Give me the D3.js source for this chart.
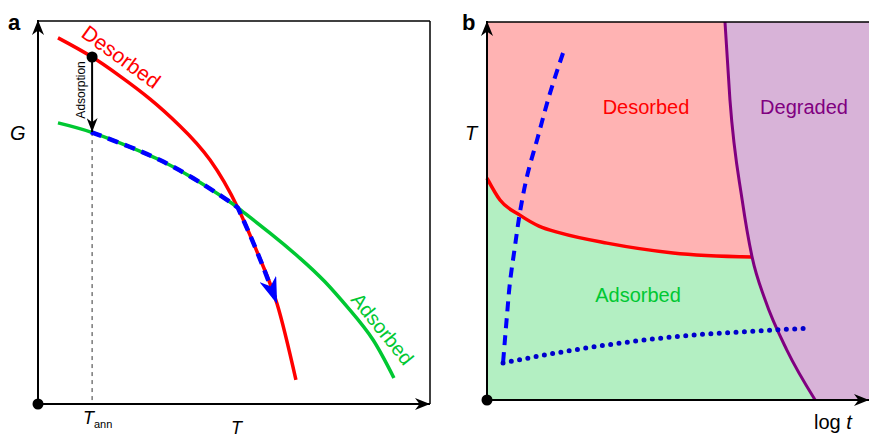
<!DOCTYPE html>
<html>
<head>
<meta charset="utf-8">
<script src="https://cdn.jsdelivr.net/npm/d3@7"></script>
<style>
  body { margin: 0; background: #fff; }
  text { font-family: "Liberation Sans", Arial, sans-serif; }
</style>
</head>
<body>
<div id="graph"></div>
<script>
// schematic curves, in 0-100 units on both axes

// panel a: G against T
var desorbedG = [[5.1, 95.6], [13.3, 90.9], [20.9, 85.6], [28.6, 79.6], [36.2, 72.6], [43.9, 63.7],
                 [51.0, 51.2], [56.1, 39.2], [61.0, 26.1], [65.8, 6.3]];
var adsorbedG = [[5.1, 73.4], [13.5, 71.0], [23.5, 67.1], [31.1, 63.7], [39.5, 59.0], [48.2, 53.3],
                 [51.0, 51.2], [59.2, 44.6], [66.8, 38.1], [73.2, 31.9], [79.6, 24.5],
                 [85.5, 16.7], [90.8, 6.8]];
// annealing path: along the adsorbed curve, then down the desorbed one
var annealOnAdsorbed = [[13.5, 71.0], [23.5, 67.1], [31.1, 63.7], [39.5, 59.0], [48.2, 53.3], [51.0, 51.2]];
var annealOnDesorbed = [[51.0, 51.2], [56.1, 39.2], [61.0, 26.1]];
var Tann = 13.8;

// panel b: T against log t
var desorbBoundary = [[0, 58.7], [3.4, 52.9], [8.6, 48.9], [13.6, 46.0], [19.1, 44.2],
                      [31.4, 41.5], [48.7, 38.9], [69.4, 37.8]];
var degradeBoundary = [[62.3, 100], [63.6, 79.4], [66.8, 52.9], [69.4, 37.8], [72.8, 26.5],
                       [78.5, 13.2], [85.9, 0]];
var rampPath = [[19.9, 91.8], [16.5, 81.2], [13.1, 68.8], [10.7, 60.1], [8.6, 49.5],
                [7.3, 40.5], [6.0, 31.0], [5.2, 22.0], [4.2, 9.8]];
var isoPath = [[4.2, 9.8], [22.5, 13.2], [48.7, 16.7], [74.9, 18.5], [84.0, 19.0]];

var width = 869, height = 437;

var svg = d3.select("#graph").append("svg")
    .attr("width", width)
    .attr("height", height);

var defs = svg.append("defs");
function arrowMarker(id, color, len, wid) {
  defs.append("marker")
      .attr("id", id)
      .attr("viewBox", "0 0 10 10")
      .attr("preserveAspectRatio", "none")
      .attr("refX", 10).attr("refY", 5)
      .attr("markerUnits", "userSpaceOnUse")
      .attr("markerWidth", len).attr("markerHeight", wid)
      .attr("orient", "auto")
    .append("path")
      .attr("d", "M0,0 L10,5 L0,10 L3,5 Z")
      .attr("fill", color);
}
arrowMarker("axisArrow", "#000", 15, 12);
arrowMarker("blackHead", "#000", 14, 11);
arrowMarker("blueArrow", "#0000ff", 27, 18);

// ---------- panel a ----------
var xa = d3.scaleLinear().domain([0, 100]).range([38, 430]);
var ya = d3.scaleLinear().domain([0, 100]).range([404, 21]);
var lineA = d3.line().x(d => xa(d[0])).y(d => ya(d[1])).curve(d3.curveNatural);

var a = svg.append("g");

// frame
a.append("line").attr("x1", xa(0)).attr("y1", ya(100)).attr("x2", xa(100)).attr("y2", ya(100))
    .attr("stroke", "#000").attr("stroke-width", 1.5);
a.append("line").attr("x1", xa(100)).attr("y1", ya(100)).attr("x2", xa(100)).attr("y2", ya(0))
    .attr("stroke", "#000").attr("stroke-width", 1.5);
// axes
a.append("line").attr("x1", xa(0)).attr("y1", ya(0)).attr("x2", xa(100)).attr("y2", ya(0))
    .attr("stroke", "#000").attr("stroke-width", 2).attr("marker-end", "url(#axisArrow)");
a.append("line").attr("x1", xa(0)).attr("y1", ya(0)).attr("x2", xa(0)).attr("y2", ya(100) - 1)
    .attr("stroke", "#000").attr("stroke-width", 2).attr("marker-end", "url(#axisArrow)");
a.append("circle").attr("cx", xa(0)).attr("cy", ya(0)).attr("r", 5.5).attr("fill", "#000");

// T_ann guide
a.append("line").attr("x1", xa(Tann)).attr("y1", ya(71)).attr("x2", xa(Tann)).attr("y2", ya(0))
    .attr("stroke", "#000").attr("stroke-width", 0.8).attr("stroke-dasharray", "4,4");

a.append("path").attr("d", lineA(desorbedG)).attr("fill", "none")
    .attr("stroke", "#ff0000").attr("stroke-width", 3.5);
a.append("path").attr("d", lineA(adsorbedG)).attr("fill", "none")
    .attr("stroke", "#00c832").attr("stroke-width", 3.5);
a.append("path")
    .attr("d", lineA(annealOnAdsorbed) + lineA(annealOnDesorbed).replace(/^M/, "L"))
    .attr("fill", "none")
    .attr("stroke", "#0000ff").attr("stroke-width", 4.5)
    .attr("stroke-dasharray", "11,7")
    .attr("marker-end", "url(#blueArrow)");

// adsorption arrow
a.append("line").attr("x1", xa(Tann)).attr("y1", ya(90.6)).attr("x2", xa(Tann)).attr("y2", ya(71))
    .attr("stroke", "#000").attr("stroke-width", 2).attr("marker-end", "url(#blackHead)");
a.append("circle").attr("cx", xa(Tann)).attr("cy", ya(90.6)).attr("r", 5.5).attr("fill", "#000");

a.append("text").attr("transform", "translate(" + (xa(Tann) - 7) + "," + ya(82) + ") rotate(-90)")
    .attr("text-anchor", "middle").attr("font-size", 12).text("Adsorption");

a.append("text").attr("transform", "translate(80,36) rotate(36)")
    .attr("fill", "#ff0000").attr("font-size", 21).text("Desorbed");
a.append("text").attr("transform", "translate(350,300) rotate(51)")
    .attr("fill", "#00c832").attr("font-size", 20).text("Adsorbed");

a.append("text").attr("x", 8).attr("y", 30).attr("font-size", 22).attr("font-weight", "bold").text("a");
a.append("text").attr("x", 10).attr("y", 140).attr("font-size", 20).attr("font-style", "italic").text("G");
a.append("text").attr("x", 231).attr("y", 434).attr("font-size", 18).attr("font-style", "italic").text("T");
var tl = a.append("text").attr("x", 83).attr("y", 424).attr("font-size", 18).attr("font-style", "italic");
tl.append("tspan").text("T");
tl.append("tspan").attr("font-size", 11).attr("font-style", "normal").attr("dy", 4).text("ann");

// ---------- panel b ----------
var xb = d3.scaleLinear().domain([0, 100]).range([487, 869]);
var yb = d3.scaleLinear().domain([0, 100]).range([400, 22]);
var lineB = d3.line().x(d => xb(d[0])).y(d => yb(d[1])).curve(d3.curveMonotoneX);
var lineBy = d3.line().x(d => xb(d[0])).y(d => yb(d[1])).curve(d3.curveMonotoneY);
var b = svg.append("g");

// desorbed fills the plot, adsorbed below the red line, degraded on top at the right
b.append("rect").attr("x", xb(0)).attr("y", yb(100)).attr("width", xb(100) - xb(0))
    .attr("height", yb(0) - yb(100)).attr("fill", "#ffb3b3");
var lastRed = desorbBoundary[desorbBoundary.length - 1];
b.append("path")
    .attr("d", lineB(desorbBoundary) + "L" + xb(100) + "," + yb(lastRed[1]) +
        "L" + xb(100) + "," + yb(0) + "L" + xb(0) + "," + yb(0) + "Z")
    .attr("fill", "#b3efc2");
b.append("path")
    .attr("d", lineB(degradeBoundary) + "L" + xb(100) + "," + yb(0) +
        "L" + xb(100) + "," + yb(100) + "Z")
    .attr("fill", "#d8b3d8");

b.append("path").attr("d", lineB(desorbBoundary)).attr("fill", "none")
    .attr("stroke", "#ff0000").attr("stroke-width", 3.5);
b.append("path").attr("d", lineB(degradeBoundary)).attr("fill", "none")
    .attr("stroke", "#800080").attr("stroke-width", 3);

b.append("path").attr("d", lineBy(rampPath)).attr("fill", "none")
    .attr("stroke", "#0000ff").attr("stroke-width", 4).attr("stroke-dasharray", "10,7");
b.append("path").attr("d", lineB(isoPath)).attr("fill", "none")
    .attr("stroke", "#0000cc").attr("stroke-width", 5).attr("stroke-linecap", "round")
    .attr("stroke-dasharray", "0,8.4");

// frame and axes
b.append("line").attr("x1", xb(0)).attr("y1", yb(100)).attr("x2", xb(100)).attr("y2", yb(100))
    .attr("stroke", "#000").attr("stroke-width", 1.5);
b.append("line").attr("x1", xb(0)).attr("y1", yb(0)).attr("x2", xb(100)).attr("y2", yb(0))
    .attr("stroke", "#000").attr("stroke-width", 2).attr("marker-end", "url(#axisArrow)");
b.append("line").attr("x1", xb(0)).attr("y1", yb(0)).attr("x2", xb(0)).attr("y2", yb(100) - 1)
    .attr("stroke", "#000").attr("stroke-width", 2).attr("marker-end", "url(#axisArrow)");
b.append("circle").attr("cx", xb(0)).attr("cy", yb(0)).attr("r", 5.5).attr("fill", "#000");

b.append("text").attr("x", 646).attr("y", 114).attr("text-anchor", "middle")
    .attr("fill", "#ff0000").attr("font-size", 20).text("Desorbed");
b.append("text").attr("x", 804).attr("y", 114).attr("text-anchor", "middle")
    .attr("fill", "#800080").attr("font-size", 20).text("Degraded");
b.append("text").attr("x", 638).attr("y", 302).attr("text-anchor", "middle")
    .attr("fill", "#00c832").attr("font-size", 20).text("Adsorbed");

b.append("text").attr("x", 462).attr("y", 30).attr("font-size", 22).attr("font-weight", "bold").text("b");
b.append("text").attr("x", 465).attr("y", 140).attr("font-size", 20).attr("font-style", "italic").text("T");
var lt = b.append("text").attr("x", 814).attr("y", 429).attr("font-size", 20);
lt.append("tspan").text("log ");
lt.append("tspan").attr("font-style", "italic").text("t");
</script>
</body>
</html>
